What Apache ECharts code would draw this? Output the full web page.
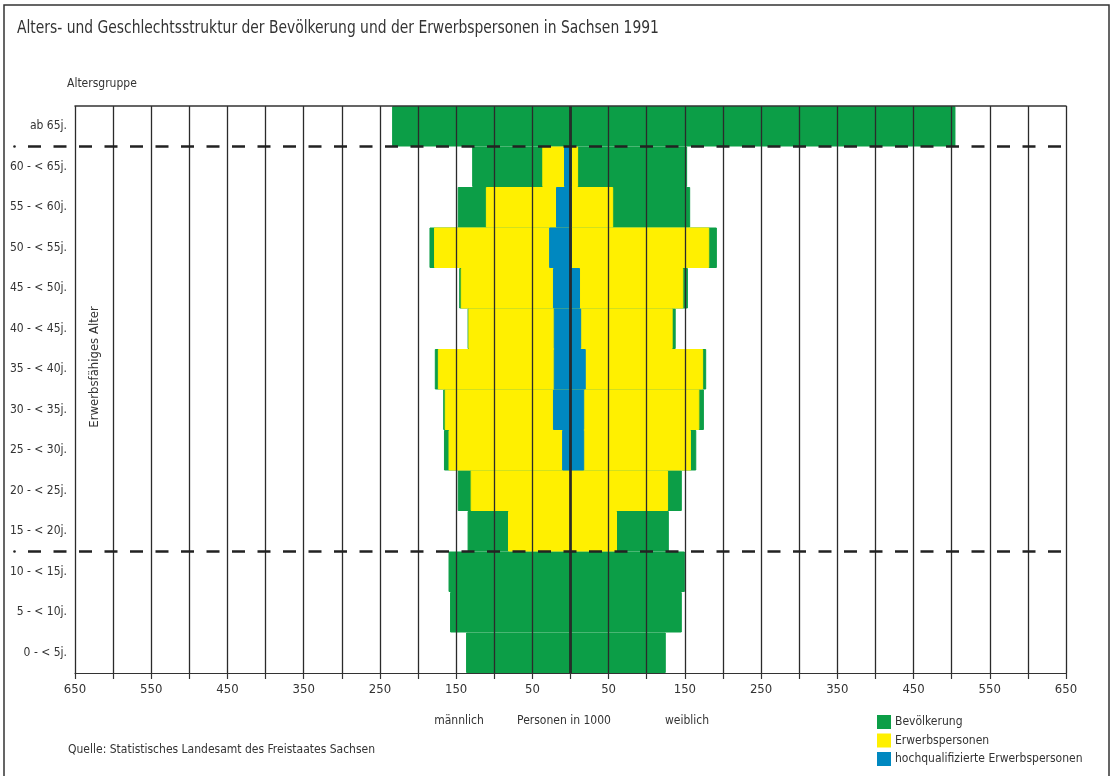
<!DOCTYPE html>
<html>
<head>
<meta charset="utf-8">
<title>Alters- und Geschlechtsstruktur Sachsen 1991</title>
<script src="https://cdn.jsdelivr.net/npm/echarts@6/dist/echarts.min.js"></script>
<style>
  html, body { margin: 0; padding: 0; background: #fff; }
  #chart { width: 1112px; height: 776px; }
</style>
</head>
<body>
<div id="chart"></div>
<script>
// Age groups, from the youngest (bottom) to the oldest (top)
const categories = ['0 - < 5j.', '5 - < 10j.', '10 - < 15j.', '15 - < 20j.', '20 - < 25j.',
  '25 - < 30j.', '30 - < 35j.', '35 - < 40j.', '40 - < 45j.', '45 - < 50j.',
  '50 - < 55j.', '55 - < 60j.', '60 - < 65j.', 'ab 65j.'];

// Persons in 1000
const bevMaennlich = [137, 158, 160, 135, 148, 166, 167, 178, 135, 146, 185, 148, 129, 234];
const bevWeiblich  = [125, 146, 150, 129, 146, 165, 175, 178, 138, 154, 192, 157, 153, 505];
const erwMaennlich = [0, 0, 0, 82, 131, 160, 165, 174, 134, 144, 179, 111, 37, 0];
const erwWeiblich  = [0, 0, 0, 61, 128, 158, 169, 174, 134, 148, 182, 56, 10, 0];
const hqMaennlich  = [0, 0, 0, 0, 0, 11, 23, 22, 22, 23, 28, 19, 8.5, 0];
const hqWeiblich   = [0, 0, 0, 0, 0, 18, 18, 20, 14, 12.5, 1.5, 1.5, 1.5, 0];

const seriesNames = ['Bevölkerung', 'Erwerbspersonen', 'hochqualifizierte Erwerbspersonen'];

const GREEN = '#0c9e47';
const YELLOW = '#fff000';
const BLUE = '#0088c0';
const INK = '#333';
const FONT = '"Liberation Sans Narrow", "DejaVu Sans Condensed", "Roboto", sans-serif';

const W = 1112, H = 776;
const grid = { left: 75, right: 46, top: 106, bottom: 103 };
const plotH = H - grid.top - grid.bottom;
const band = plotH / categories.length;

const chart = echarts.init(document.getElementById('chart'), null, { renderer: 'canvas' });

function barSeries(name, values, color, sign) {
  return {
    name: name,
    type: 'bar',
    data: values.map(v => sign * v),
    // a hairline border in the fill colour closes the seams between age rows
    itemStyle: { color: color, borderColor: color, borderWidth: 1 },
    barGap: '-100%',
    barCategoryGap: '0%',
    silent: true,
    animation: false
  };
}

const series = [
  barSeries(seriesNames[0], bevMaennlich, GREEN, -1),
  barSeries(seriesNames[0], bevWeiblich, GREEN, 1),
  barSeries(seriesNames[1], erwMaennlich, YELLOW, -1),
  barSeries(seriesNames[1], erwWeiblich, YELLOW, 1),
  barSeries(seriesNames[2], hqMaennlich, BLUE, -1),
  barSeries(seriesNames[2], hqWeiblich, BLUE, 1)
];
// heavier centre line at zero
series[5].markLine = {
  silent: true,
  symbol: 'none',
  label: { show: false },
  lineStyle: { color: '#222', width: 2.6, type: 'solid' },
  data: [{ xAxis: 0 }]
};

// separators for the working-age range
const sepY1 = grid.top + band * 1;
const sepY2 = grid.top + band * 11;
const plotRight = W - grid.right;

function caption(text, x, y, size, align, extra) {
  return Object.assign({
    type: 'text', z: 100, silent: true, x: x, y: y,
    style: { text: text, font: size + 'px ' + FONT, fill: INK, align: align, verticalAlign: 'middle' }
  }, extra || {});
}

const option = {
  backgroundColor: '#fff',
  animation: false,
  textStyle: { fontFamily: FONT },
  legend: {
    data: seriesNames,
    orient: 'vertical',
    left: 877, top: 715,
    padding: 0,
    icon: 'rect',
    itemWidth: 12, itemHeight: 12, itemGap: 4.5,
    textStyle: { fontFamily: FONT, fontSize: 12, color: INK },
    selectedMode: false
  },
  grid: { left: grid.left, right: grid.right, top: grid.top, bottom: grid.bottom, containLabel: false },
  xAxis: [{
    type: 'value',
    min: -650, max: 650, interval: 50,
    z: 10,
    axisLine: { show: true, onZero: false, lineStyle: { color: INK, width: 1.2 } },
    axisTick: { show: true, length: 6, lineStyle: { color: INK, width: 1.2 } },
    axisLabel: {
      margin: 10,
      fontFamily: FONT, fontSize: 13, color: INK,
      showMinLabel: true, showMaxLabel: true,
      formatter: function (v) {
        const a = Math.abs(v);
        return (a / 50) % 2 === 1 ? String(a) : '';
      }
    },
    splitLine: { show: true, lineStyle: { color: '#2b2b2b', width: 1.3 } }
  }, {
    type: 'value',
    position: 'top',
    min: -650, max: 650, interval: 50,
    z: 10,
    axisLine: { show: true, onZero: false, lineStyle: { color: INK, width: 1.5 } },
    axisTick: { show: false },
    axisLabel: { show: false },
    splitLine: { show: false }
  }],
  yAxis: {
    type: 'category',
    data: categories,
    axisLine: { show: false },
    axisTick: { show: false },
    axisLabel: { margin: 8, fontFamily: FONT, fontSize: 12, color: INK },
    splitLine: { show: false }
  },
  graphic: [
    // outer frame
    { type: 'rect', z: 100, silent: true,
      shape: { x: 4, y: 5, width: 1105, height: 800 },
      style: { fill: null, stroke: INK, lineWidth: 1.5 } },
    // dashed separators
    { type: 'line', z: 100, silent: true,
      shape: { x1: 28, y1: sepY1, x2: plotRight, y2: sepY1 },
      style: { stroke: '#222', lineWidth: 2.6, lineDash: [13, 12.5] } },
    { type: 'line', z: 100, silent: true,
      shape: { x1: 28, y1: sepY2, x2: plotRight, y2: sepY2 },
      style: { stroke: '#222', lineWidth: 2.6, lineDash: [13, 12.5] } },
    { type: 'circle', z: 100, silent: true,
      shape: { cx: 14.5, cy: sepY1, r: 1.3 }, style: { fill: '#222' } },
    { type: 'circle', z: 100, silent: true,
      shape: { cx: 14.5, cy: sepY2, r: 1.3 }, style: { fill: '#222' } },
    // title, condensed horizontally
    caption('Alters- und Geschlechtsstruktur der Bevölkerung und der Erwerbspersonen in Sachsen 1991',
      17, 28, 18, 'left', { scaleX: 0.857, scaleY: 1 }),
    // axis captions
    caption('Altersgruppe', 67, 84, 12, 'left'),
    caption('Erwerbsfähiges Alter', 95, 367, 13, 'center', { rotation: Math.PI / 2 }),
    caption('männlich', 459, 721, 12, 'center'),
    caption('Personen in 1000', 564, 721, 12, 'center'),
    caption('weiblich', 687, 721, 12, 'center'),
    caption('Quelle: Statistisches Landesamt des Freistaates Sachsen', 68, 750, 12, 'left')
  ],
  series: series
};

chart.setOption(option);
</script>
</body>
</html>
